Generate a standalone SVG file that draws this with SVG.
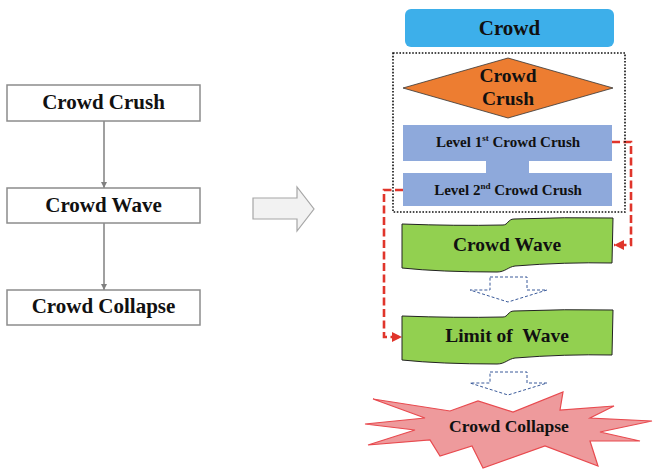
<svg xmlns="http://www.w3.org/2000/svg" width="653" height="469" viewBox="0 0 653 469">
<defs>
<style>
.t{font-family:"Liberation Serif","Times New Roman",serif;font-weight:bold;fill:#111;text-anchor:middle}
.lb{fill:#fff;stroke:#8c8c8c;stroke-width:1.5}
.gl{stroke:#808080;stroke-width:1.5;fill:none}
.green{fill:#92D050;stroke:#222;stroke-width:1}
.red{stroke:#E0352B;stroke-width:2.6;fill:none;stroke-dasharray:8 3.5}
.hollow{fill:#fff;stroke:#3a5a9a;stroke-width:1;stroke-dasharray:3 2}
</style>
<marker id="ag" viewBox="0 0 10 10" refX="10" refY="5" markerWidth="6" markerHeight="6" orient="auto" markerUnits="userSpaceOnUse"><path d="M0,0 L10,5 L0,10 Z" fill="#808080"/></marker>
<marker id="ar" viewBox="0 0 10 10" refX="10" refY="5" markerWidth="10" markerHeight="10" orient="auto" markerUnits="userSpaceOnUse"><path d="M0,0 L10,5 L0,10 Z" fill="#E0352B"/></marker>
</defs>

<g id="connectors">
<line class="gl" x1="104" y1="121" x2="104" y2="188" marker-end="url(#ag)"/>
<line class="gl" x1="104" y1="223" x2="104" y2="290" marker-end="url(#ag)"/>
<path class="red" d="M612,142 H631 V245 H614" marker-end="url(#ar)"/>
<path class="red" d="M403,190 H384 V337 H402" marker-end="url(#ar)"/>
</g>

<g id="left-crush"><rect class="lb" x="7" y="85" width="193" height="36"/><text class="t" x="103.5" y="109" font-size="21">Crowd Crush</text></g>
<g id="left-wave"><rect class="lb" x="7" y="188" width="193" height="35"/><text class="t" x="103.5" y="212" font-size="21">Crowd Wave</text></g>
<g id="left-collapse"><rect class="lb" x="7" y="290" width="193" height="35"/><text class="t" x="103.5" y="313" font-size="21">Crowd Collapse</text></g>

<g id="big-arrow"><path d="M253,198 H297 V187 L314,209 L297,231 V219 H253 Z" fill="#F2F2F2" stroke="#A6A6A6" stroke-width="1.2"/></g>

<g id="crowd"><rect x="405" y="9" width="209" height="38" rx="6" fill="#3DAFEA"/><text class="t" x="509.5" y="35" font-size="21">Crowd</text></g>

<g id="group-box"><rect x="393" y="53" width="232" height="159" fill="none" stroke="#111" stroke-width="1.6" stroke-dasharray="1.6 1.6"/></g>

<g id="diamond"><path d="M403,88 L508,58 L613,88 L508,118 Z" fill="#ED7D31" stroke="#333" stroke-width="0.8"/><text class="t" x="508" y="82" font-size="19.5">Crowd</text><text class="t" x="508" y="105" font-size="19.5">Crush</text></g>

<g id="levels"><path d="M403,125 H612 V161 H529 V173 H612 V206 H403 V173 H486 V161 H403 Z" fill="#8EA9DB"/>
<text class="t" x="508" y="147" font-size="15">Level 1<tspan font-size="9" dy="-6">st</tspan><tspan dy="6"> Crowd Crush</tspan></text>
<text class="t" x="508" y="195" font-size="15">Level 2<tspan font-size="9" dy="-6">nd</tspan><tspan dy="6"> Crowd Crush</tspan></text></g>

<g id="crowd-wave"><path class="green" d="M402,224 Q455,226 503,225 C508,225 508,219 514,219 Q565,217 613,218 L612,263 Q565,262 515,266 C508,267 505,272 497,272 Q440,272 402,268 Z"/><text class="t" x="507" y="251" font-size="19.5">Crowd Wave</text></g>

<g id="down1"><path class="hollow" d="M490,277 H527 V290 H547 L508,302 L470,290 H490 Z"/></g>

<g id="limit-wave"><path class="green" d="M402,316 Q455,318 503,317 C508,317 508,311 514,311 Q565,309 613,310 L612,355 Q565,354 515,358 C508,359 505,364 497,364 Q440,364 402,360 Z"/><text class="t" x="507" y="342" font-size="19.5" xml:space="preserve">Limit of  Wave</text></g>

<g id="down2"><path class="hollow" d="M490,372 H527 V383 H547 L508,395 L470,383 H490 Z"/></g>

<g id="collapse"><path d="M373,399 L450,411 L478,401 L513,412 L563,392 L560,410 L614,406 L590,418 L652,421 L600,432 L640,441 L590,441 L598,466 L545,446 L483,468 L472,446 L440,456 L430,440 L368,445 L415,430 L365,424 L425,418 Z" fill="#EE9A9C" stroke="#E84A4F" stroke-width="1.2"/><text class="t" x="509" y="432" font-size="17.5">Crowd Collapse</text></g>
</svg>
